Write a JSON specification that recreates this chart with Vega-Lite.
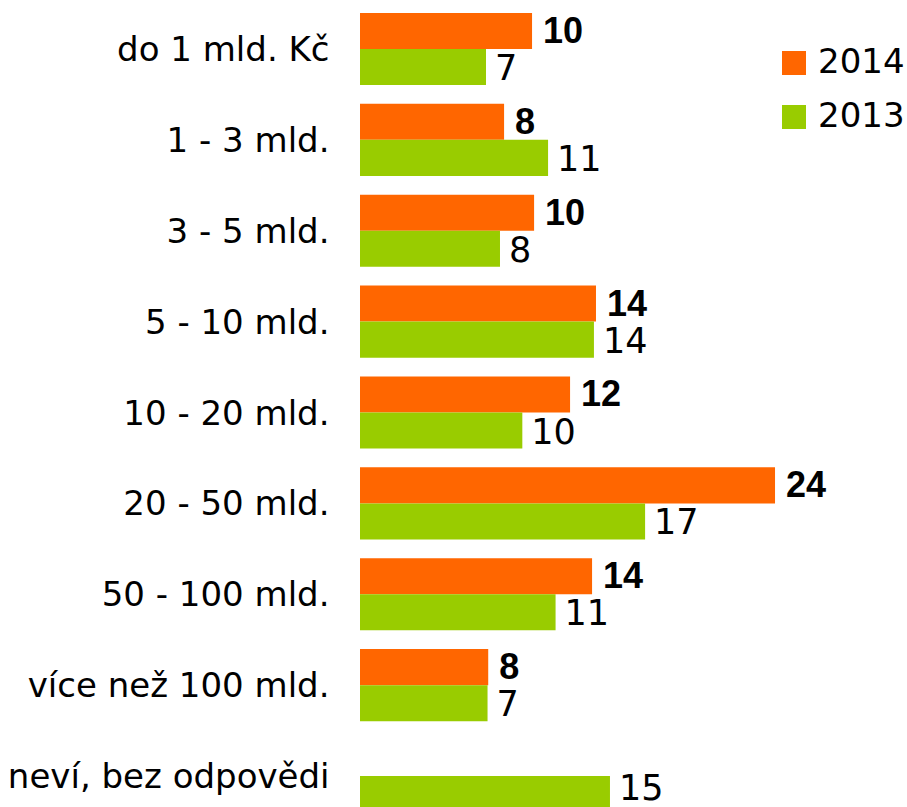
{
  "$schema": "https://vega.github.io/schema/vega-lite/v6.json",
  "autosize": "none",
  "padding": {"left": 360, "top": 0, "right": 0, "bottom": 0},
  "width": 547,
  "height": 825,
  "config": {
    "view": {"stroke": null},
    "font": "DejaVu Sans"
  },
  "data": {
    "values": [
      {"cat": "do 1 mld. Kč", "year": "2014", "value": 10.09},
      {"cat": "do 1 mld. Kč", "year": "2013", "value": 7.39},
      {"cat": "1 - 3 mld.", "year": "2014", "value": 8.45},
      {"cat": "1 - 3 mld.", "year": "2013", "value": 11.03},
      {"cat": "3 - 5 mld.", "year": "2014", "value": 10.21},
      {"cat": "3 - 5 mld.", "year": "2013", "value": 8.21},
      {"cat": "5 - 10 mld.", "year": "2014", "value": 13.84},
      {"cat": "5 - 10 mld.", "year": "2013", "value": 13.72},
      {"cat": "10 - 20 mld.", "year": "2014", "value": 12.32},
      {"cat": "10 - 20 mld.", "year": "2013", "value": 9.52},
      {"cat": "20 - 50 mld.", "year": "2014", "value": 24.34},
      {"cat": "20 - 50 mld.", "year": "2013", "value": 16.72},
      {"cat": "50 - 100 mld.", "year": "2014", "value": 13.61},
      {"cat": "50 - 100 mld.", "year": "2013", "value": 11.47},
      {"cat": "více než 100 mld.", "year": "2014", "value": 7.52},
      {"cat": "více než 100 mld.", "year": "2013", "value": 7.48},
      {"cat": "neví, bez odpovědi", "year": "2013", "value": 14.66}
    ]
  },
  "encoding": {
    "y": {
      "field": "cat",
      "type": "nominal",
      "sort": null,
      "scale": {"paddingInner": 0.2076, "paddingOuter": 0.143},
      "axis": {
        "title": null,
        "domain": false,
        "ticks": false,
        "labelPadding": 31,
        "labelOffset": 2,
        "labelFontSize": 34,
        "labelColor": "#000000",
        "labelFont": "DejaVu Sans",
        "labelLimit": 400
      }
    },
    "yOffset": {
      "field": "year",
      "type": "nominal",
      "scale": {"domain": ["2014", "2013"], "paddingInner": 0, "paddingOuter": 0}
    },
    "x": {
      "field": "value",
      "type": "quantitative",
      "scale": {"domain": [0, 32.08], "nice": false, "zero": true},
      "axis": null
    }
  },
  "layer": [
    {
      "mark": {"type": "bar"},
      "encoding": {
        "color": {
          "field": "year",
          "type": "nominal",
          "scale": {"domain": ["2014", "2013"], "range": ["#FF6600", "#99CC00"]},
          "legend": {
            "title": null,
            "orient": "none",
            "legendX": 417,
            "legendY": 46,
            "symbolType": "square",
            "symbolSize": 576,
            "symbolStrokeWidth": 0,
            "labelFontSize": 34,
            "labelFont": "DejaVu Sans",
            "labelColor": "#000000",
            "labelOffset": 7,
            "rowPadding": 20
          }
        }
      }
    },
    {
      "transform": [{"filter": "datum.year === '2014'"}],
      "mark": {"type": "text", "align": "left", "baseline": "middle", "dx": 11, "dy": 1, "font": "Liberation Sans", "fontSize": 36, "fontWeight": "bold", "color": "#000000"},
      "encoding": {"text": {"field": "value", "type": "quantitative", "format": ".0f"}}
    },
    {
      "transform": [{"filter": "datum.year === '2013' && datum.cat !== 'neví, bez odpovědi'"}],
      "mark": {"type": "text", "align": "left", "baseline": "middle", "dx": 9, "dy": 2, "font": "DejaVu Sans", "fontSize": 35, "fontWeight": "normal", "color": "#000000"},
      "encoding": {"text": {"field": "value", "type": "quantitative", "format": ".0f"}}
    },
    {
      "transform": [{"filter": "datum.cat === 'neví, bez odpovědi'"}],
      "mark": {"type": "text", "align": "left", "baseline": "middle", "dx": 9, "dy": -5, "font": "DejaVu Sans", "fontSize": 35, "fontWeight": "normal", "color": "#000000"},
      "encoding": {"text": {"field": "value", "type": "quantitative", "format": ".0f"}}
    }
  ]
}
